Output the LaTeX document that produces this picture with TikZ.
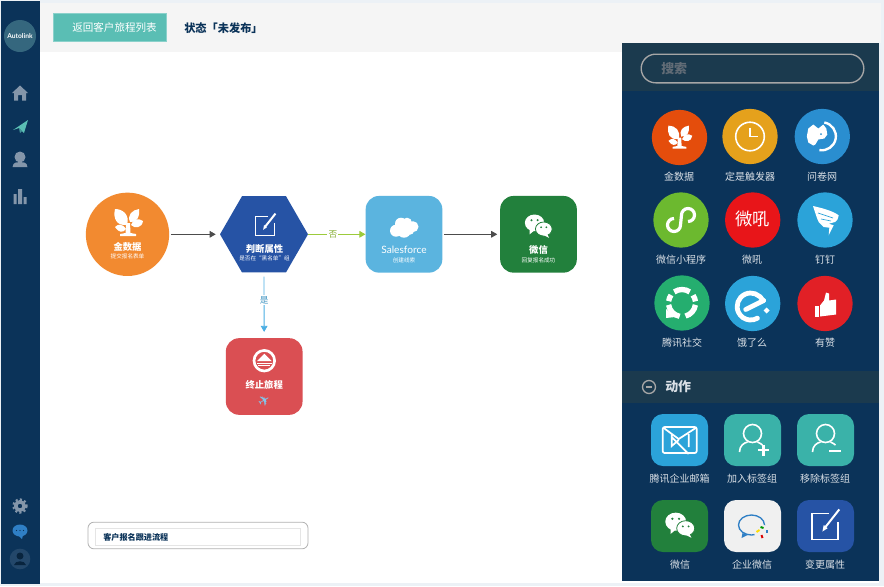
\documentclass[tikz,border=0pt]{standalone}
\usepackage{fontspec}
\setmainfont{Noto Sans CJK SC}
\newfontfamily\latinfont{Lato}
\newfontfamily\symbfont{DejaVu Sans}
\usetikzlibrary{arrows.meta,shapes.geometric}
\definecolor{navy}{HTML}{0B3359}
\definecolor{band}{HTML}{1B3A4E}
\definecolor{pagebg}{HTML}{ECF1F6}
\definecolor{headbg}{HTML}{F5F5F5}
\definecolor{teal}{HTML}{5ABEB4}
\definecolor{flowblue}{HTML}{2653A5}
\definecolor{floworange}{HTML}{F28A30}
\definecolor{wxgreen}{HTML}{22803C}
\definecolor{sfblue}{HTML}{5BB4DF}
\definecolor{stopred}{HTML}{DA4F53}
\definecolor{sidegray}{HTML}{8496AA}
\definecolor{skyblue}{HTML}{2BA3D9}
\definecolor{tagteal}{HTML}{3AB2A9}
\definecolor{qiyeblue}{HTML}{2F7FC5}
\definecolor{dogblue}{HTML}{2A8ED0}
\definecolor{leafgreen}{HTML}{9CCB3B}
\definecolor{linkblue}{HTML}{4BAEE3}
\definecolor{jsjorange}{HTML}{E44D0C}
\definecolor{clockyellow}{HTML}{E5A11C}
\definecolor{minigreen}{HTML}{6CB92F}
\definecolor{whred}{HTML}{E81519}
\definecolor{txgreen}{HTML}{25AE6F}
\definecolor{zanred}{HTML}{E12026}
\tikzset{
	flowbox/.style={rectangle, rounded corners=10pt, minimum size=57.5pt, inner sep=0pt},
	toolcircle/.style={circle, minimum size=41.5pt, inner sep=0pt},
	toolbox/.style={rectangle, rounded corners=9pt, minimum width=42.75pt, minimum height=39pt, inner sep=0pt},
	toollabel/.style={text=white!85!navy, font=\fontsize{7.5}{9}\selectfont, inner sep=0pt},
	flowtitle/.style={text=white, font=\fontsize{7}{8}\selectfont\bfseries, inner sep=0pt},
	flowsub/.style={text=white, font=\fontsize{4.2}{5}\selectfont, inner sep=0pt},
	flowline/.style={line width=0.6pt, -{Triangle[length=4.5pt,width=5pt]}},
	linklabel/.style={fill=white, inner sep=0.8pt, font=\fontsize{6.5}{8}\selectfont},
	treeicon/.pic={
		\fill[white] (-1,2) .. controls (-12,3) and (-15,-5) .. (-13,-14) .. controls (-5,-14) and (2,-8) .. cycle;
		\fill[white] (2,-1) .. controls (-1,-8) and (4,-13) .. (11,-14) .. controls (12,-7) and (10,-1) .. cycle;
		\fill[white] (3,2) .. controls (6,-5) and (10,-5) .. (15,-2) .. controls (14,5) and (7,6) .. cycle;
		\fill[white] (-2,6) .. controls (-6,0) and (-10,1) .. (-13,4) .. controls (-9,10) and (-5,10) .. cycle;
		\fill[white] (-2,0) -- (2,0) -- (2.5,10) -- (8,11) -- (8,13) -- (-8,13) -- (-8,11) -- (-2.5,10) -- cycle;
	},
	wechaticon/.pic={
		\fill[white] (-4.5,-3) ellipse [x radius=11, y radius=9.5];
		\fill[white] (-10,4) -- (-10,10) -- (-4,5) -- cycle;
		\fill[white, draw=wxgreen, line width=0.6pt] (6,4) ellipse [x radius=9.5, y radius=8];
		\fill[white] (10,10) -- (12,14) -- (6,11) -- cycle;
		\fill[wxgreen] (-8,-6) circle (1.3) (-1,-6) circle (1.3) (3,2) circle (1.1) (9,2) circle (1.1);
	},
	editicon/.pic={
		\draw[white, line width=0.9pt] (3,-9) -- (-10,-9) -- (-10,11) -- (10,11) -- (10,-2);
		\draw[#1, line width=3pt] (-1,3) -- (11,-13);
		\draw[white, line width=1.5pt] (0,2) -- (11,-12);
		\fill[white] (-2,5) -- (-1,0) -- (2,2.5) -- cycle;
	},
	cloudicon/.pic={
		\fill[white] (-8,3) circle (6) (-3,-4) circle (6) (3,-5) circle (5) (9,-1) circle (5.5) (0,3) circle (7) (6,3) circle (4);
	},
	stopicon/.pic={
		\draw[white, line width=2pt] (0,0) circle (10.3);
		\fill[white] (-7.5,0.5) -- (0,-7) -- (7.5,0.5) -- cycle;
		\fill[white] (-7.5,2) rectangle (7.5,3.5);
		\fill[white] (-6,4.5) rectangle (6,5.5);
	},
	clockicon/.pic={
		\draw[white, line width=1.2pt] (0,0) circle (14.3);
		\draw[white, line width=1.2pt] (0,-9) -- (0,0) -- (8,0);
	},
	dogicon/.pic={
		\fill[white] (-15.5,0) -- (-14,-8) -- (-9,-12) -- (-4,-8) -- (1,-12) -- (4,-8) -- (5,-2) -- (2,2) -- (-4,3) -- (-7,8) -- (-9,9) -- (-14,6) -- cycle;
		\draw[white, line width=1.8pt] (2,-14) arc[start angle=-80, delta angle=180, radius=14];
		\fill[#1] (-1.3,-2.3) circle (1);
	},
	sloopicon/.pic={
		\draw[white, line width=2.4pt] (-7,-1.5) arc[start angle=-90, delta angle=-270, radius=6.5] -- (0.5,-5) arc[start angle=180, delta angle=270, radius=6.5];
	},
	wingicon/.pic={
		\fill[white] (-12,-14) .. controls (-3,-12) and (8,-9) .. (13.7,-4.7) .. controls (13,-1) and (12,1) .. (10,2) -- (3.7,3.7) -- (8.7,5.3) -- (3.7,15.3) -- (4.3,7.7) -- (-1.3,7) .. controls (-3,5) and (-5,4) .. (-6.3,2) .. controls (-8,-1) and (-10,-8) .. cycle;
		\draw[#1, line width=0.5pt] (-7,-7) -- (8,-2) (-4,-1) -- (6,1);
	},
	ringicon/.pic={
		\draw[white, line width=4pt] (-125:13.5) arc[start angle=-125, delta angle=70, radius=13.5];
		\draw[white, line width=4pt] (-35:13.5) arc[start angle=-35, delta angle=28, radius=13.5];
		\draw[white, line width=4pt] (8:13.5) arc[start angle=8, delta angle=67, radius=13.5];
		\draw[white, line width=4pt] (100:13.5) arc[start angle=100, delta angle=72, radius=13.5];
		\draw[white, line width=4pt] (-172:13.5) arc[start angle=-172, delta angle=28, radius=13.5];
		\fill[white] (-16,6) -- (-16,15) -- (-7,14) -- cycle;
	},
	eleicon/.pic={
		\draw[white, line width=3.6pt, line cap=round] (11,-3) -- (-7,6);
		\draw[white, line width=3.6pt, line cap=round] (10.2,-2.7) arc[start angle=-25, delta angle=-275, radius=13.5];
		\fill[white] (14,4) -- (17,7) -- (14,10) -- (11,7) -- cycle;
	},
	thumbicon/.pic={
		\fill[white] (-10,2) rectangle (-6,13);
		\fill[white] (-5,2) -- (-1,-3) -- (1,-11) -- (4,-10) -- (4,-3) -- (11,-4) -- (11,11) -- (-5,13) -- cycle;
	},
	mailicon/.pic={
		\draw[white, line width=1.3pt, rounded corners=1.5pt] (-17,-13) rectangle (17,13);
		\draw[white, line width=1.3pt] (-16,-12) -- (-1,-1) -- (16,-12) (-8,-6) -- (-8,6) -- (-1,0) (-8,-3) -- (9,14) (9,-6) -- (9,7);
	},
	usericon/.pic={
		\draw[white, line width=1.2pt] (0,-6.5) circle (9);
		\draw[white, line width=1.2pt] (-13,12) .. controls (-13,6) and (-9,3) .. (-5,2) (5,2) .. controls (7,3) and (9,4) .. (10,5);
	},
	qiyeicon/.pic={
		\draw[qiyeblue, line width=1pt] (-1,-1) ellipse [x radius=13, y radius=10];
		\fill[qiyeblue] (-10,7) -- (-11,12) -- (-5,9) -- cycle;
		\fill[#1] (9,6) circle (7.5);
		\draw[green!60!black, line width=1.5pt] (8,1) -- (11,2);
		\draw[qiyeblue, line width=1.5pt] (14,4) -- (14,7);
		\draw[red!85!black, line width=1.5pt] (9,9) -- (10,12);
		\draw[yellow!80!orange, line width=1.5pt] (4,6) -- (7,4);
	},
}
\begin{document}
\begin{tikzpicture}[x=0.75pt, y=-0.75pt]
	\useasboundingbox (0,0) rectangle (884,586);
	% page
	\fill[pagebg] (0,0) rectangle (884,586);
	\fill[white] (40,3) rectangle (879,583);
	\fill[headbg] (40,3) rectangle (622,52);
	\fill[headbg] (622,3) rectangle (881,43);
	\fill[navy] (1,1) rectangle (40,584);
	\fill[navy] (622,43) rectangle (879,581);
	\fill[band] (622,43) rectangle (879,91);
	\fill[band] (622,371) rectangle (879,403);

	% sidebar
	\node (logo) [circle, fill=teal!25!navy!90!white, minimum size=24pt, inner sep=0pt, text=white, font=\latinfont\fontsize{5}{6}\selectfont\bfseries] at (20,36) {Autolink};
	\fill[sidegray] (20,85.5) -- (28,93) -- (26,93) -- (26,100.5) -- (22,100.5) -- (22,95) -- (18,95) -- (18,100.5) -- (14,100.5) -- (14,93) -- (12,93) -- cycle;
	\fill[teal] (28,120) -- (24,133) -- (19,128) -- (13,130) -- cycle;
	\fill[teal!70!navy] (19,128) -- (20,133) -- (22,131) -- cycle;
	\fill[sidegray] (20,157) circle (5.5) (12.5,167) .. controls (13,162) and (17,162) .. (20,162) .. controls (23,162) and (27,162) .. (27.5,167) -- cycle;
	\fill[sidegray] (13.5,194) rectangle (16.5,204) (18,189) rectangle (22,204) (23.5,197) rectangle (26.5,204);
	\draw[sidegray, line width=2.6pt] (20,506) circle (4.2);
	\draw[sidegray, line width=1.6pt, dash pattern=on 1.6pt off 1.7pt] (20,506) circle (6.6);
	\fill[qiyeblue] (20,530.5) ellipse [x radius=7.5, y radius=6];
	\fill[qiyeblue] (18,535) -- (22,539) -- (23,535) -- cycle;
	\fill[navy] (16.5,530.5) circle (0.6) (20,530.5) circle (0.6) (23.5,530.5) circle (0.6);
	\node (avatar) [circle, fill=white!10!navy, minimum size=15.5pt, inner sep=0pt] at (20,559) {};
	\fill[navy!70!black] (20,556) circle (3.5) (14,565) .. controls (15,560) and (25,560) .. (26,565) -- cycle;

	% header
	\node (back) [rectangle, fill=teal, draw=teal!70!white, line width=0.4pt, minimum width=84.5pt, minimum height=21pt, inner sep=0pt] at (110,27) {};
	\node (backtext) [text=white, inner sep=0pt, font=\fontsize{7.9}{9}\selectfont] at (114.5,27) {返回客户旅程列表};
	\node (state) [anchor=west, text=navy, inner sep=0pt, font=\fontsize{8.4}{10}\selectfont\bfseries] at (184,28.5) {状态「未发布」};

	% flow
	\node (data) [circle, fill=floworange, minimum size=62.5pt, inner sep=0pt] at (127.5,234.3) {};
	\pic at (128,223) {treeicon};
	\node (datat) [flowtitle] at (127.5,246.5) {金数据};
	\node (datas) [flowsub] at (127.5,256.5) {提交报名表单};

	\node (attr) [regular polygon, regular polygon sides=6, fill=flowblue, minimum size=66pt, inner sep=0pt] at (264,234.3) {};
	\pic at (265,225) [scale=0.95] {editicon=flowblue};
	\node (attrt) [flowtitle] at (264.5,248.5) {判断属性};
	\node (attrs) [flowsub] at (264.5,258.5) {是否在“黑名单”组};

	\node (sf) [flowbox, fill=sfblue] at (404,234.3) {};
	\pic at (404,227.7) {cloudicon};
	\node (sft) [flowtitle, font=\latinfont\fontsize{7.6}{9}\selectfont] at (404,249.5) {Salesforce};
	\node (sfs) [flowsub] at (404,260) {创建线索};

	\node (wx) [flowbox, fill=wxgreen] at (538.5,234.3) {};
	\pic at (538.5,225.5) [scale=0.88] {wechaticon};
	\node (wxt) [flowtitle] at (538.5,249.5) {微信};
	\node (wxs) [flowsub] at (538.5,260) {回复报名成功};

	\node (stop) [flowbox, fill=stopred] at (264.2,376.5) {};
	\pic at (264.3,360.7) {stopicon};
	\node (stopt) [flowtitle] at (264.2,384.5) {终止旅程};
	\node (stopi) [inner sep=0pt, rotate=30, text=linkblue!70!white, font=\symbfont\fontsize{11}{12}\selectfont] at (264.2,400.5) {✈};

	\draw[flowline, gray!60!black, shorten <=1pt, shorten >=3pt] (data) -- (attr);
	\draw[flowline, leafgreen] (attr) -- node (no) [pos=0.43, linklabel, text=leafgreen!85!black] {否} (sf);
	\draw[flowline, gray!60!black, shorten <=1pt, shorten >=2pt] (sf) -- (wx);
	\draw[flowline, linkblue, shorten <=3pt, shorten >=4.5pt] (attr) -- node (yes) [pos=0.42, linklabel, text=linkblue!85!black] {是} (stop);

	% journey name
	\node (namebox) [rectangle, draw=gray!60, line width=0.6pt, rounded corners=4.5pt, minimum width=165pt, minimum height=20pt, inner sep=0pt] at (198,535.5) {};
	\node (nameinner) [rectangle, draw=gray!20, line width=0.5pt, minimum width=153.5pt, minimum height=12.7pt, inner sep=0pt] at (197.5,536.5) {};
	\node (nametext) [anchor=west, text=navy, inner sep=0pt, font=\fontsize{6.1}{7}\selectfont\bfseries] at (103,537) {客户报名跟进流程};

	% panel: search
	\node (search) [rectangle, rounded corners=10.8pt, draw=gray!70!white, line width=1pt, minimum width=167pt, minimum height=21.5pt, inner sep=0pt] at (752.5,68.5) {};
	\node (searcht) [anchor=west, text=gray!75!navy, inner sep=0pt, font=\fontsize{9.7}{11}\selectfont\bfseries] at (661,69) {搜索};

	% panel: triggers
	\node (t1) [toolcircle, fill=jsjorange] at (679.5,137.5) {};
	\node (t2) [toolcircle, fill=clockyellow] at (750,136.5) {};
	\node (t3) [toolcircle, fill=dogblue] at (822.3,136.5) {};
	\node (t4) [toolcircle, fill=minigreen] at (681,220) {};
	\node (t5) [toolcircle, fill=whred] at (752.7,220) {};
	\node (t6) [toolcircle, fill=skyblue] at (825,220) {};
	\node (t7) [toolcircle, fill=txgreen] at (682,303) {};
	\node (t8) [toolcircle, fill=skyblue] at (752.7,303.5) {};
	\node (t9) [toolcircle, fill=zanred] at (825,303.5) {};
	\pic at (679.5,137.5) [scale=0.85] {treeicon};
	\pic at (750,136.5) {clockicon};
	\pic at (822.3,136.5) {dogicon=dogblue};
	\pic at (681,220) {sloopicon};
	\node (t5t) [inner sep=0pt, text=white, font=\fontsize{13}{14}\selectfont] at (752.7,219) {微吼};
	\pic at (825,220) {wingicon=skyblue};
	\pic at (682,303) {ringicon};
	\pic at (752.7,303.5) {eleicon};
	\pic at (825,303.5) {thumbicon};
	\node (t1l) [toollabel] at (679,177) {金数据};
	\node (t2l) [toollabel] at (750,177) {定是触发器};
	\node (t3l) [toollabel] at (822,177) {问卷网};
	\node (t4l) [toollabel] at (681,260) {微信小程序};
	\node (t5l) [toollabel] at (752,260) {微吼};
	\node (t6l) [toollabel] at (825,260) {钉钉};
	\node (t7l) [toollabel] at (682,343) {腾讯社交};
	\node (t8l) [toollabel] at (752,343) {饿了么};
	\node (t9l) [toollabel] at (825,343) {有赞};

	% panel: actions
	\draw[gray!70!white, line width=1pt] (649,387) circle (6.5);
	\draw[gray!70!white, line width=1pt] (646,387) -- (652,387);
	\node (actions) [anchor=west, text=white!85!navy, inner sep=0pt, font=\fontsize{9.7}{11}\selectfont\bfseries] at (665,387) {动作};

	\node (a1) [toolbox, fill=skyblue] at (679.5,440) {};
	\node (a2) [toolbox, fill=tagteal] at (752.5,440) {};
	\node (a3) [toolbox, fill=tagteal] at (825.5,440) {};
	\node (a4) [toolbox, fill=wxgreen] at (679.5,526) {};
	\node (a5) [toolbox, fill=gray!12] at (752.5,526) {};
	\node (a6) [toolbox, fill=flowblue] at (825.5,526) {};
	\pic at (679.7,440) {mailicon};
	\pic at (752.5,440) {usericon};
	\draw[white, line width=1.8pt] (758,450) -- (769,450) (763.5,444.5) -- (763.5,455.5);
	\pic at (825.5,440) {usericon};
	\draw[white, line width=1.8pt] (829,451) -- (841,451);
	\pic at (680,524.5) [scale=0.95] {wechaticon};
	\pic at (752.5,526) {qiyeicon=gray!12};
	\pic at (825,525) [scale=1.3] {editicon=flowblue};
	\node (a1l) [toollabel] at (679.5,479) {腾讯企业邮箱};
	\node (a2l) [toollabel] at (752,479) {加入标签组};
	\node (a3l) [toollabel] at (825,479) {移除标签组};
	\node (a4l) [toollabel] at (680,565) {微信};
	\node (a5l) [toollabel] at (752,565) {企业微信};
	\node (a6l) [toollabel] at (825,565) {变更属性};
\end{tikzpicture}
\end{document}
